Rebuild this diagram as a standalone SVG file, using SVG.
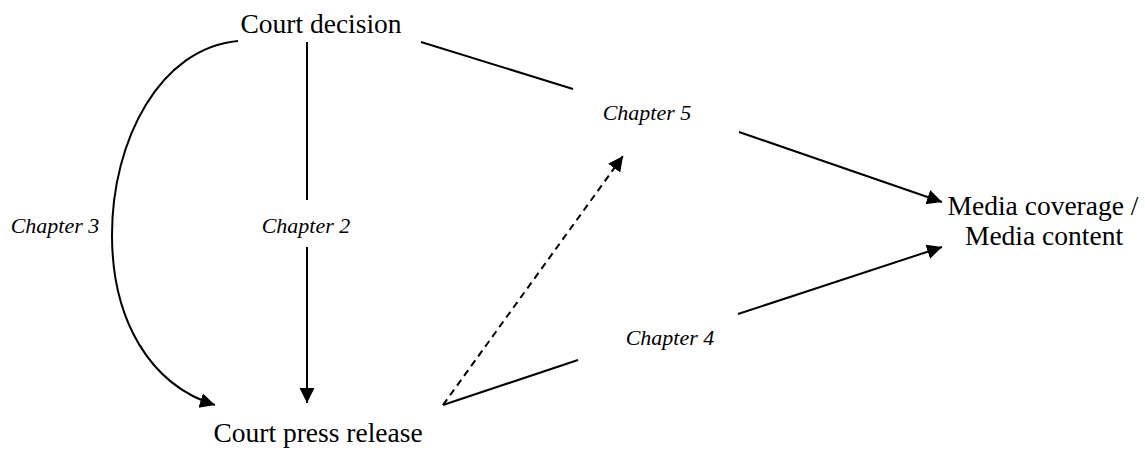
<svg xmlns="http://www.w3.org/2000/svg" width="1145" height="450" viewBox="0 0 1145 450">
<style>
text{font-family:'Liberation Serif',serif;fill:#000}
.node{font-size:27.5px}
.lbl{font-size:22px;font-style:italic}
.c{fill:none;stroke:#000;stroke-width:2}
.d{stroke-dasharray:7 5}
</style>
<defs>
<marker id="ah" markerUnits="userSpaceOnUse" markerWidth="16" markerHeight="16" refX="15" refY="7.5" orient="auto">
<path d="M0,0 L15,7.5 L0,15 z" fill="#000"/>
</marker>
</defs>
<rect width="1145" height="450" fill="#fff"/>
<g id="connectors">
<path class="c" d="M238,41 C160,48 112,140 112,235 C112,320 150,385 215,405" marker-end="url(#ah)"/>
<line class="c" x1="307" y1="42" x2="307" y2="200"/>
<line class="c" x1="307" y1="247" x2="307" y2="403" marker-end="url(#ah)"/>
<line class="c" x1="421" y1="42" x2="573" y2="89"/>
<line class="c" x1="739" y1="132" x2="942" y2="202" marker-end="url(#ah)"/>
<line class="c d" x1="443" y1="405" x2="623" y2="156" marker-end="url(#ah)"/>
<line class="c" x1="443" y1="405" x2="578" y2="360"/>
<line class="c" x1="738" y1="314" x2="942" y2="247" marker-end="url(#ah)"/>
</g>
<g id="court-decision"><text class="node" x="321" y="33" text-anchor="middle" font-family="Liberation Serif, serif">Court decision</text></g>
<g id="court-press-release"><text class="node" x="318" y="442" text-anchor="middle" font-family="Liberation Serif, serif">Court press release</text></g>
<g id="media"><text class="node" x="1043" y="215" text-anchor="middle" font-family="Liberation Serif, serif">Media coverage /</text><text class="node" x="1044" y="245" text-anchor="middle" font-family="Liberation Serif, serif">Media content</text></g>
<g id="labels">
<text class="lbl" x="55" y="233" text-anchor="middle" font-family="Liberation Serif, serif">Chapter 3</text>
<text class="lbl" x="306" y="233" text-anchor="middle" font-family="Liberation Serif, serif">Chapter 2</text>
<text class="lbl" x="647" y="120" text-anchor="middle" font-family="Liberation Serif, serif">Chapter 5</text>
<text class="lbl" x="670" y="345" text-anchor="middle" font-family="Liberation Serif, serif">Chapter 4</text>
</g>
</svg>
